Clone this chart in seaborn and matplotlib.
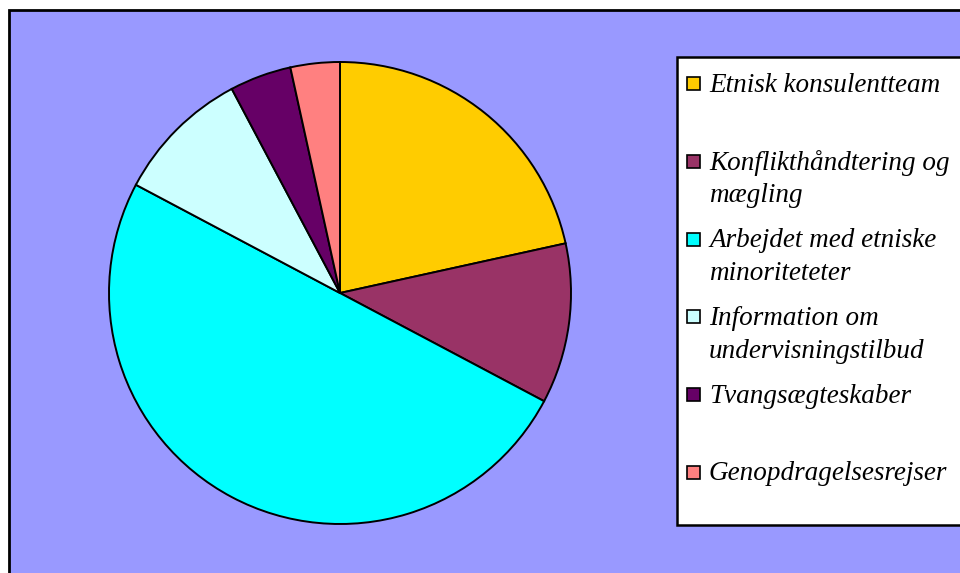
import matplotlib
matplotlib.use("Agg")
import matplotlib.pyplot as plt
from matplotlib.patches import Rectangle
import seaborn as sns

# data
categories = ["Etnisk konsulentteam",
              "Konflikthåndtering og\nmægling",
              "Arbejdet med etniske\nminoriteteter",
              "Information om\nundervisningstilbud",
              "Tvangsægteskaber",
              "Genopdragelsesrejser"]
values = [25, 13, 58, 11, 5, 4]
colors = ["#FFCC00", "#993366", "#00FFFF", "#CCFFFF", "#660066", "#FF8080"]

sns.set_style("white")
plt.rcParams["font.family"] = ["Liberation Serif", "DejaVu Serif"]
plt.rcParams["text.color"] = "black"

W, H = 960, 573
fig = plt.figure(figsize=(W / 100, H / 100), dpi=100, facecolor="white")

# plot area background with a black frame (runs off the right/bottom edge)
fig.patches.append(Rectangle((9 / W, -0.05), 1.1, 1 - 10 / H + 0.05,
                             transform=fig.transFigure, facecolor="#9999FF",
                             edgecolor="black", linewidth=2, zorder=-1))

# pie
cx, cy, r = 340, 293, 231
ax = fig.add_axes([(cx - r) / W, (H - cy - r) / H, 2 * r / W, 2 * r / H])
ax.set_zorder(1)
ax.pie(values, colors=colors, startangle=90, counterclock=False,
       wedgeprops=dict(edgecolor="black", linewidth=1.4))
ax.set_aspect("equal")
ax.set_xlim(-1.0, 1.0)
ax.set_ylim(-1.0, 1.0)
ax.axis("off")
ax.patch.set_visible(False)

# legend box drawn by hand so the markers sit on the first text line
fig.patches.append(Rectangle((677 / W, (H - 525) / H), 0.5, (525 - 57) / H,
                             transform=fig.transFigure, facecolor="white",
                             edgecolor="black", linewidth=1.8, zorder=2))
for i, (lab, col) in enumerate(zip(categories, colors)):
    y0 = 83 + i * 77.8
    fig.patches.append(Rectangle((687 / W, (H - y0 - 7) / H), 13 / W, 13 / H,
                                 transform=fig.transFigure, facecolor=col,
                                 edgecolor="black", linewidth=1.2, zorder=3))
    for j, line in enumerate(lab.split("\n")):
        fig.text(709 / W, (H - y0 - 2 - 33 * j) / H, line, fontsize=19.5,
                 style="italic", va="center", ha="left", zorder=4)

fig.savefig("out.png", dpi=100, facecolor="white")
